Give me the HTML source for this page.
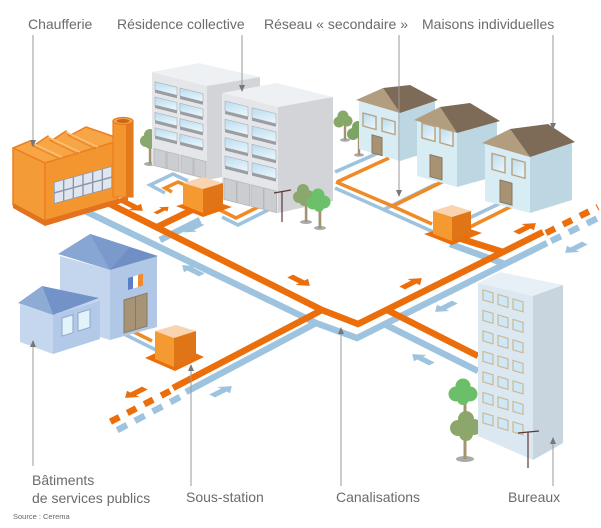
<!DOCTYPE html>
<html><head><meta charset="utf-8">
<style>
html,body{margin:0;padding:0;background:#fff;}
svg{display:block;}
text{font-family:"Liberation Sans",Arial,sans-serif;fill:#6b6b6b;}
</style></head><body>
<svg width="601" height="528" viewBox="0 0 601 528" xmlns="http://www.w3.org/2000/svg">
<defs>
 <path id="arr" d="M-11,-3.2 L2,-3.2 L2,-7 L11,0 L2,7 L2,3.2 L-11,3.2 Z"/>
 <linearGradient id="gl" x1="0" y1="0" x2="1" y2="1">
  <stop offset="0" stop-color="#b9dcf0"/><stop offset="1" stop-color="#eef8fd"/>
 </linearGradient>
</defs>

<!-- ============ PIPES ============ -->
<g fill="none" stroke-linejoin="miter">
 <g stroke="#9dc3df" stroke-width="6.5">
  <polyline points="85,211 316,323 357,338 505,264 547,243"/>
  <polyline points="384,324 478,371"/>
  <polyline points="316,323 186,392"/>
  <polyline points="160,240 200,220"/>
  <polyline points="450,244 505,264"/>
  <line x1="551" y1="241" x2="600" y2="217" stroke-dasharray="11 9"/>
  <line x1="180" y1="397" x2="110" y2="434" stroke-dasharray="11 9"/>
 </g>
 <g stroke="#ec6e0b" stroke-width="6.5">
  <polyline points="100,199 322,310 358,324 503,252 543,232"/>
  <polyline points="387,310 478,356"/>
  <polyline points="322,310 173,388"/>
  <polyline points="157,227 192,210"/>
  <polyline points="455,237 503,252"/>
  <line x1="546" y1="233" x2="598" y2="207" stroke-dasharray="10 9"/>
  <line x1="170" y1="391" x2="104" y2="425" stroke-dasharray="10 9"/>
 </g>
 <g stroke="#9dc3df" stroke-width="3.5">
  <polyline points="188,181 173,174 150,185 165,193"/>
  <polyline points="222,217 238,225 268,210"/>
  <polyline points="335,188 389,212 438,234"/>
  <polyline points="335,172 385,150"/>
  <polyline points="383,210 436,184"/>
  <polyline points="463,221 505,201"/>
  <polyline points="124,334 162,353"/>
 </g>
 <g stroke="#f08a26" stroke-width="3.5">
  <polyline points="188,186 178,182 165,188 172,192"/>
  <polyline points="218,209 236,218 262,205"/>
  <polyline points="336,182 390,205 432,224"/>
  <polyline points="337,182 389,158"/>
  <polyline points="393,206 444,181"/>
  <polyline points="470,227 514,205"/>
  <polyline points="128,329 152,341"/>
 </g>
</g>

<!-- flow arrows -->
<g fill="#ec6e0b">
 <use href="#arr" transform="matrix(0.894,0.447,0.894,-0.447,133,206)"/>
 <use href="#arr" transform="matrix(0.6,-0.3,0.6,0.3,162,210)"/>
 <use href="#arr" transform="matrix(0.894,0.447,0.894,-0.447,300,281)"/>
 <use href="#arr" transform="matrix(0.894,-0.447,0.894,0.447,412,283)"/>
 <use href="#arr" transform="matrix(0.894,-0.447,0.894,0.447,526,228)"/>
 <use href="#arr" transform="matrix(-0.894,0.447,0.894,0.447,135,393)"/>
</g>
<g fill="#9dc3df">
 <use href="#arr" transform="matrix(-0.8,0.4,0.8,0.4,193,228)"/>
 <use href="#arr" transform="matrix(-0.894,-0.447,0.894,-0.447,192,270)"/>
 <use href="#arr" transform="matrix(-0.894,0.447,0.894,0.447,445,307)"/>
 <use href="#arr" transform="matrix(-0.894,-0.447,0.894,-0.447,422,359)"/>
 <use href="#arr" transform="matrix(-0.894,0.447,0.894,0.447,575,248)"/>
 <use href="#arr" transform="matrix(0.894,-0.447,0.894,0.447,222,391)"/>
</g>

<!-- ============ FACTORY ============ -->
<g stroke="#ec7f20" stroke-width="1.5" stroke-linejoin="round">
 <polygon points="13,148 30,141 33,146 48,136 51,141 66,131 69,136 86,127 115,137 118,141 45,163" fill="#f7a545"/>
 <polygon points="13,148 45,163 45,222 13,205" fill="#f39b36"/>
 <polygon points="45,163 118,141 118,200 45,222" fill="#f39630"/>
</g>
<g stroke="#fbc27d" stroke-width="1.5">
 <line x1="30" y1="142" x2="62" y2="157"/>
 <line x1="48" y1="137" x2="80" y2="152"/>
 <line x1="66" y1="132" x2="98" y2="147"/>
</g>
<g stroke="#e6852a" stroke-width="1.2">
 <line x1="33" y1="146" x2="60" y2="159"/>
 <line x1="51" y1="141" x2="78" y2="154"/>
 <line x1="69" y1="136" x2="96" y2="149"/>
</g>
<polygon points="13,203 45,220 128,196 128,201 45,226 13,208" fill="#e3721d"/>
<g transform="matrix(9.667,-2.667,0,11,54,182)">
 <polygon points="0,0 6,0 6,2 0,2" fill="#8c96a8"/>
 <g fill="#dfe6f0">
  <rect x="0.07" y="0.07" width="0.86" height="0.86"/><rect x="1.07" y="0.07" width="0.86" height="0.86"/>
  <rect x="2.07" y="0.07" width="0.86" height="0.86"/><rect x="3.07" y="0.07" width="0.86" height="0.86"/>
  <rect x="4.07" y="0.07" width="0.86" height="0.86"/><rect x="5.07" y="0.07" width="0.86" height="0.86"/>
  <rect x="0.07" y="1.07" width="0.86" height="0.86"/><rect x="1.07" y="1.07" width="0.86" height="0.86"/>
  <rect x="2.07" y="1.07" width="0.86" height="0.86"/><rect x="3.07" y="1.07" width="0.86" height="0.86"/>
  <rect x="4.07" y="1.07" width="0.86" height="0.86"/><rect x="5.07" y="1.07" width="0.86" height="0.86"/>
 </g>
</g>
<rect x="113" y="121" width="20" height="76" fill="#f39630" stroke="#ec7f20" stroke-width="1.2"/>
<rect x="126" y="121" width="7" height="76" fill="#e37a1c"/>
<ellipse cx="123" cy="121" rx="10" ry="3.5" fill="#f7a545" stroke="#e37a1c" stroke-width="1.2"/>
<ellipse cx="123" cy="121" rx="6.5" ry="2" fill="#c9661a"/>

<!-- ============ RESIDENCE ============ -->
<g>
 <ellipse cx="150" cy="164" rx="6" ry="2" fill="#aaa"/>
 <rect x="148.8" y="143" width="2.6" height="21" fill="#a39470"/>
 <circle cx="146" cy="141" r="6" fill="#8aa86b"/><circle cx="154" cy="140" r="6" fill="#8aa86b"/><circle cx="150" cy="135" r="6" fill="#8aa86b"/><circle cx="150" cy="144" r="5" fill="#8aa86b"/>
</g>
<polygon points="152,72 199,63 260,77 207,86" fill="#eef1f3"/>
<polygon points="207,86 260,77 260,170 207,180" fill="#d2d4d8"/>
<polygon points="152,72 207,86 207,180 152,165" fill="#e4e6e9"/>
<g transform="matrix(1,0.25,0,1,0,0)">
 <g fill="url(#gl)" stroke="#a9adb2" stroke-width="0.6">
  <rect x="155" y="43" width="22" height="8"/><rect x="180" y="43" width="23" height="8"/>
  <rect x="155" y="58.3" width="22" height="8"/><rect x="180" y="58.3" width="23" height="8"/>
  <rect x="155" y="73.6" width="22" height="8"/><rect x="180" y="73.6" width="23" height="8"/>
  <rect x="155" y="89" width="22" height="8"/><rect x="180" y="89" width="23" height="8"/>
 </g>
 <g fill="#9a9ea3">
  <rect x="155" y="51" width="22" height="3"/><rect x="180" y="51" width="23" height="3"/>
  <rect x="155" y="66.3" width="22" height="3"/><rect x="180" y="66.3" width="23" height="3"/>
  <rect x="155" y="81.6" width="22" height="3"/><rect x="180" y="81.6" width="23" height="3"/>
  <rect x="155" y="97" width="22" height="3"/><rect x="180" y="97" width="23" height="3"/>
 </g>
 <g fill="#cbcdd0" stroke="#b3b5b9" stroke-width="0.8">
  <rect x="154" y="110" width="12" height="17"/><rect x="167" y="110" width="12" height="17"/>
  <rect x="181" y="110" width="12" height="17"/><rect x="194" y="110" width="12" height="17"/>
 </g>
</g>
<polygon points="222,93 277,83 333,97 278,107" fill="#eef1f3"/>
<polygon points="278,107 333,97 333,201 278,213" fill="#d2d4d8"/>
<polygon points="222,93 278,107 278,213 222,199" fill="#e4e6e9"/>
<g transform="matrix(1,0.25,0,1,0,0)">
 <g fill="url(#gl)" stroke="#a9adb2" stroke-width="0.6">
  <rect x="225" y="44.7" width="23" height="10"/><rect x="252" y="44.7" width="24" height="10"/>
  <rect x="225" y="63" width="23" height="10"/><rect x="252" y="63" width="24" height="10"/>
  <rect x="225" y="81.3" width="23" height="10"/><rect x="252" y="81.3" width="24" height="10"/>
  <rect x="225" y="99.6" width="23" height="10"/><rect x="252" y="99.6" width="24" height="10"/>
 </g>
 <g fill="#9a9ea3">
  <rect x="225" y="54.7" width="23" height="3"/><rect x="252" y="54.7" width="24" height="3"/>
  <rect x="225" y="73" width="23" height="3"/><rect x="252" y="73" width="24" height="3"/>
  <rect x="225" y="91.3" width="23" height="3"/><rect x="252" y="91.3" width="24" height="3"/>
  <rect x="225" y="109.6" width="23" height="3"/><rect x="252" y="109.6" width="24" height="3"/>
 </g>
 <g fill="#cbcdd0" stroke="#b3b5b9" stroke-width="0.8">
  <rect x="224" y="122" width="12.5" height="21.5"/><rect x="237" y="122" width="12.5" height="21.5"/>
  <rect x="251" y="122" width="12.5" height="21.5"/><rect x="264" y="122" width="12.5" height="21.5"/>
 </g>
</g>
<g stroke="#5a3a34" stroke-width="1.2">
 <line x1="282" y1="192" x2="282" y2="222"/>
 <line x1="274" y1="193" x2="291" y2="190"/>
</g>
<g>
 <ellipse cx="306" cy="222" rx="6" ry="2" fill="#aaa"/>
 <rect x="304.8" y="200" width="2.6" height="22" fill="#a39470"/>
 <circle cx="299" cy="197" r="6" fill="#8aa86b"/><circle cx="308" cy="196" r="6" fill="#8aa86b"/><circle cx="303" cy="190" r="6" fill="#8aa86b"/><circle cx="304" cy="201" r="5" fill="#8aa86b"/>
 <ellipse cx="320" cy="228" rx="6" ry="2" fill="#aaa"/>
 <rect x="318.5" y="205" width="2.8" height="23" fill="#a39470"/>
 <circle cx="313" cy="203" r="6.5" fill="#6cc06a"/><circle cx="324" cy="202" r="6.5" fill="#6cc06a"/><circle cx="318" cy="195" r="6.5" fill="#6cc06a"/><circle cx="319" cy="207" r="5" fill="#6cc06a"/>
</g>

<!-- ============ HOUSES ============ -->
<g>
 <ellipse cx="345" cy="140" rx="5" ry="1.8" fill="#aaa"/>
 <rect x="343.8" y="124" width="2.4" height="16" fill="#a39470"/>
 <circle cx="339" cy="122" r="5.5" fill="#86a96a"/><circle cx="347" cy="121" r="5.5" fill="#86a96a"/><circle cx="343" cy="116" r="5.5" fill="#86a96a"/>
 <ellipse cx="359" cy="155" rx="5" ry="1.8" fill="#aaa"/>
 <rect x="357.8" y="136" width="2.4" height="19" fill="#a39470"/>
 <circle cx="353" cy="134" r="6" fill="#7ea465"/><circle cx="362" cy="133" r="6" fill="#7ea465"/><circle cx="358" cy="127" r="6" fill="#7ea465"/>
</g>
<polygon points="359,100 400,111 400,161 359,149" fill="#d8ecf4"/>
<polygon points="400,111 435,100 435,150 400,161" fill="#bdd7e2"/>
<polygon points="356,100 383,88 400,113" fill="#b29d7f"/>
<polygon points="383,88 410,85 438,100 400,113" fill="#7e6b57"/>
<g transform="matrix(1,0.27,0,1,0,0)">
 <rect x="363" y="15" width="13" height="13" fill="url(#gl)" stroke="#b8a27f" stroke-width="1.4"/>
 <rect x="382" y="15" width="13" height="13" fill="url(#gl)" stroke="#b8a27f" stroke-width="1.4"/>
 <rect x="372" y="34.5" width="10" height="18" fill="#a89274" stroke="#8b765b" stroke-width="1"/>
</g>
<polygon points="417,120 457,131 457,187 417,176" fill="#d8ecf4"/>
<polygon points="457,131 497,121 497,176 457,187" fill="#bdd7e2"/>
<polygon points="414,120 440,107 457,133" fill="#b29d7f"/>
<polygon points="440,107 470,103 500,121 457,133" fill="#7e6b57"/>
<g transform="matrix(1,0.27,0,1,0,0)">
 <rect x="422" y="9" width="13" height="15" fill="url(#gl)" stroke="#b8a27f" stroke-width="1.4"/>
 <rect x="440" y="9" width="13" height="15" fill="url(#gl)" stroke="#b8a27f" stroke-width="1.4"/>
 <rect x="430" y="38.5" width="12" height="22" fill="#a89274" stroke="#8b765b" stroke-width="1"/>
</g>
<polygon points="485,143 530,155 530,213 485,201" fill="#d8ecf4"/>
<polygon points="530,155 572,142 572,200 530,213" fill="#bdd7e2"/>
<polygon points="482,143 510,129 530,157" fill="#b29d7f"/>
<polygon points="510,129 548,124 575,142 530,157" fill="#7e6b57"/>
<g transform="matrix(1,0.27,0,1,0,0)">
 <rect x="492" y="20.5" width="13" height="16" fill="url(#gl)" stroke="#b8a27f" stroke-width="1.4"/>
 <rect x="512" y="20.5" width="13" height="16" fill="url(#gl)" stroke="#b8a27f" stroke-width="1.4"/>
 <rect x="500" y="45" width="12" height="22" fill="#a89274" stroke="#8b765b" stroke-width="1"/>
</g>

<!-- ============ SUB-STATIONS ============ -->
<polygon points="176,206 203,217 232,207 205,198" fill="#ec6e0b"/>
<polygon points="183,183 203,177 223,183 203,189" fill="#f8d4b0"/>
<polygon points="183,183 203,189 203,213 183,205" fill="#f59a30"/>
<polygon points="203,189 223,183 223,205 203,213" fill="#e07518"/>
<polygon points="424,234 452,245 482,233 455,224" fill="#ec6e0b"/>
<polygon points="433,211 452,205 471,211 452,217" fill="#f8d4b0"/>
<polygon points="433,211 452,217 452,241 433,234" fill="#f59a30"/>
<polygon points="452,217 471,211 471,234 452,241" fill="#e07518"/>

<!-- ============ PUBLIC BUILDING ============ -->
<polygon points="60,256 110,270 110,340 60,325" fill="#c4d6ee"/>
<polygon points="110,270 157,256 157,327 110,340" fill="#b0c7e6"/>
<polygon points="58,254 90,234 110,270" fill="#88a6d3"/>
<polygon points="90,234 158,256 110,270" fill="#6f8fc5"/>
<polygon points="90,234 130,247 110,270" fill="#7b9acc"/>
<polygon points="20,304 53,315 53,354 20,342" fill="#c5d7ef"/>
<polygon points="53,315 100,301 100,339 53,354" fill="#b3c9e8"/>
<polygon points="18,303 42,286 53,315" fill="#8eabd6"/>
<polygon points="42,286 99,298 53,315" fill="#7393c8"/>
<g transform="matrix(1,-0.3,0,1,0,0)">
 <rect x="62" y="336.6" width="11" height="18" fill="#e3f3fc" stroke="#8fa5c8" stroke-width="1"/>
 <rect x="78" y="336.4" width="12" height="18" fill="#e3f3fc" stroke="#8fa5c8" stroke-width="1"/>
 <rect x="124" y="337.2" width="23" height="33" fill="#a79476" stroke="#8a7a60" stroke-width="1"/>
 <line x1="135.5" y1="337.2" x2="135.5" y2="370.2" stroke="#8a7a60" stroke-width="1"/>
 <rect x="128" y="316.4" width="5" height="12" fill="#5b7fc6"/>
 <rect x="133" y="316.4" width="5" height="12" fill="#ffffff"/>
 <rect x="138" y="316.4" width="5" height="12" fill="#f08a2c"/>
</g>
<polygon points="145,358 175,371 204,357 175,344" fill="#ec6e0b"/>
<polygon points="155,331 176,325 196,331 174,338" fill="#f8d4b0"/>
<polygon points="155,331 174,338 174,367 155,359" fill="#f59a30"/>
<polygon points="174,338 196,331 196,358 174,367" fill="#e07518"/>

<!-- ============ BUREAUX ============ -->
<g>
 <ellipse cx="465" cy="459" rx="9" ry="3" fill="#aaa"/>
 <rect x="463.5" y="400" width="3" height="59" fill="#a39470"/>
 <circle cx="458" cy="428" r="8" fill="#8ca66c"/><circle cx="474" cy="427" r="8" fill="#8ca66c"/><circle cx="466" cy="419" r="8" fill="#8ca66c"/><circle cx="466" cy="434" r="7" fill="#8ca66c"/>
 <circle cx="456" cy="394" r="7.5" fill="#6cbf69"/><circle cx="470" cy="394" r="7.5" fill="#6cbf69"/><circle cx="463" cy="386" r="7.5" fill="#6cbf69"/><circle cx="463" cy="399" r="6" fill="#6cbf69"/>
</g>
<polygon points="478,283 500,272 563,285 533,296" fill="#e7f0f7"/>
<polygon points="533,296 563,285 563,443 533,460" fill="#c8d5de"/>
<polygon points="478,283 533,296 533,460 478,436" fill="#dbe8f2"/>
<g transform="matrix(1,0.3,0,1,0,0)" fill="#cfe8f7" stroke="#c9b994" stroke-width="1.2">
 <rect x="483" y="145" width="10" height="10"/><rect x="498" y="145" width="10" height="10"/><rect x="513" y="145" width="10" height="10"/>
 <rect x="483" y="165.5" width="10" height="10"/><rect x="498" y="165.5" width="10" height="10"/><rect x="513" y="165.5" width="10" height="10"/>
 <rect x="483" y="186" width="10" height="10"/><rect x="498" y="186" width="10" height="10"/><rect x="513" y="186" width="10" height="10"/>
 <rect x="483" y="206.5" width="10" height="10"/><rect x="498" y="206.5" width="10" height="10"/><rect x="513" y="206.5" width="10" height="10"/>
 <rect x="483" y="227" width="10" height="10"/><rect x="498" y="227" width="10" height="10"/><rect x="513" y="227" width="10" height="10"/>
 <rect x="483" y="247.5" width="10" height="10"/><rect x="498" y="247.5" width="10" height="10"/><rect x="513" y="247.5" width="10" height="10"/>
 <rect x="483" y="268" width="10" height="10"/><rect x="498" y="268" width="10" height="10"/><rect x="513" y="268" width="10" height="10"/>
</g>
<g stroke="#5a3a34" stroke-width="1.2">
 <line x1="528" y1="432" x2="528" y2="468"/>
 <line x1="518" y1="433" x2="539" y2="431"/>
</g>

<!-- ============ LEADERS ============ -->
<g stroke="#9a9a9a" stroke-width="1">
 <line x1="33" y1="35" x2="33" y2="141"/>
 <line x1="242" y1="35" x2="242" y2="86"/>
 <line x1="399" y1="35" x2="399" y2="191"/>
 <line x1="553" y1="35" x2="553" y2="124"/>
 <line x1="33" y1="346" x2="33" y2="466"/>
 <line x1="191" y1="370" x2="191" y2="486"/>
 <line x1="341" y1="333" x2="341" y2="486"/>
 <line x1="553" y1="443" x2="553" y2="486"/>
</g>
<g fill="#777">
 <polygon points="30,140 36,140 33,147"/>
 <polygon points="239,85 245,85 242,92"/>
 <polygon points="396,190 402,190 399,197"/>
 <polygon points="550,123 556,123 553,130"/>
 <polygon points="30,347 36,347 33,340"/>
 <polygon points="188,371 194,371 191,364"/>
 <polygon points="338,334 344,334 341,327"/>
 <polygon points="550,444 556,444 553,437"/>
</g>

<!-- ============ LABELS ============ -->
<g font-size="14">
 <text x="28" y="29">Chaufferie</text>
 <text x="117" y="29">Résidence collective</text>
 <text x="264" y="29">Réseau « secondaire »</text>
 <text x="422" y="29">Maisons individuelles</text>
 <text x="32" y="485">Bâtiments</text>
 <text x="32" y="503">de services publics</text>
 <text x="186" y="502">Sous-station</text>
 <text x="336" y="502">Canalisations</text>
 <text x="508" y="502">Bureaux</text>
</g>
<text x="13" y="519" font-size="7.5" style="fill:#666">Source : Cerema</text>
</svg>
</body></html>
